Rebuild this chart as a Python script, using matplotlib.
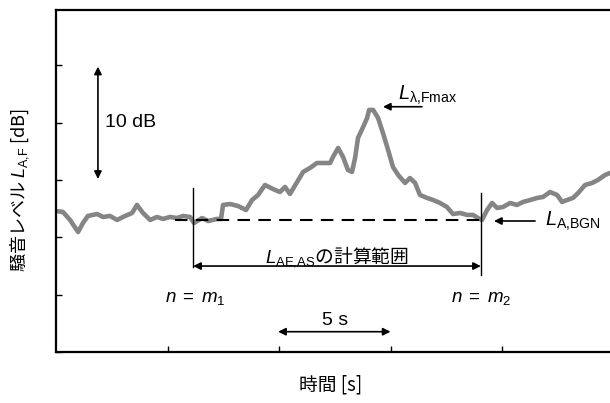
import numpy as np
import matplotlib
matplotlib.use("Agg")
import matplotlib.pyplot as plt

plt.rcParams["font.family"] = ["Noto Sans CJK JP", "DejaVu Sans"]
plt.rcParams["mathtext.fontset"] = "custom"
plt.rcParams["mathtext.rm"] = "Liberation Sans"
plt.rcParams["mathtext.it"] = "Liberation Sans:italic"
plt.rcParams["mathtext.bf"] = "Liberation Sans:bold"

# Noise level trace (time in s, level in dB above the axis floor)
time_s = [0.0, 0.31, 0.63, 0.99, 1.21, 1.43, 1.84, 2.11, 2.42, 2.74, 3.00, 3.41,
          3.63, 3.90, 4.22, 4.53, 4.80, 5.11, 5.43, 5.70, 6.01, 6.19, 6.55, 6.82,
          7.22, 7.40, 7.49, 7.80, 8.16, 8.52, 8.79, 9.06, 9.37, 9.73, 10.04, 10.27,
          10.49, 10.81, 11.08, 11.39, 11.70, 11.97, 12.29, 12.42, 12.65, 12.87,
          13.09, 13.27, 13.41, 13.54, 13.77, 13.95, 14.04, 14.22, 14.44, 14.66,
          14.89, 15.11, 15.34, 15.65, 15.87, 16.10, 16.32, 16.64, 16.91, 17.22,
          17.53, 17.80, 18.12, 18.43, 18.70, 18.92, 19.10, 19.33, 19.55, 19.78,
          20.04, 20.36, 20.67, 20.94, 21.26, 21.57, 21.84, 22.15, 22.47, 22.69,
          22.91, 23.18, 23.41, 23.72, 24.04, 24.30, 24.62, 24.84]
level_db = [12.30, 12.22, 11.52, 10.47, 11.26, 11.87, 12.04, 11.78, 11.87, 11.52,
            11.78, 12.13, 12.83, 12.13, 11.52, 11.78, 11.61, 11.78, 11.69, 11.87,
            11.78, 11.26, 11.69, 11.43, 11.61, 11.61, 12.83, 12.91, 12.74, 12.39,
            13.26, 13.70, 14.57, 14.22, 13.96, 14.40, 13.79, 14.83, 15.71, 16.06,
            16.49, 16.49, 16.49, 17.02, 17.80, 17.02, 15.88, 15.71, 16.93, 18.67,
            19.63, 20.42, 21.12, 21.12, 20.42, 19.11, 17.63, 16.14, 15.45, 14.75,
            15.18, 14.75, 13.70, 13.44, 13.26, 13.00, 12.65, 12.04, 12.13, 11.96,
            11.96, 11.69, 11.52, 12.39, 13.00, 12.57, 12.65, 13.00, 12.83, 13.09,
            13.26, 13.44, 13.53, 13.96, 13.70, 13.09, 13.26, 13.44, 13.87, 14.57,
            14.75, 15.01, 15.45, 15.62]

m1_s = 6.15      # start of calculation range
m2_s = 19.05     # end of calculation range
bgn_db = 11.5    # background level

fig = plt.figure(figsize=(6.1, 4.03), dpi=100)
ax = fig.add_axes([56 / 610, 51 / 403, 1 - 56 / 610, 342 / 403])

ax.plot(time_s, level_db, color="#858585", lw=3.3, solid_capstyle="round",
        solid_joinstyle="round", zorder=2)

ax.set_xlim(0, 24.84)
ax.set_ylim(0, 29.84)
ax.set_xticks([5, 10, 15, 20])
ax.set_yticks([0, 5, 10, 15, 20, 25])
ax.tick_params(direction="in", length=4, width=1, labelbottom=False, labelleft=False)
for side in ["left", "bottom", "top"]:
    ax.spines[side].set_linewidth(1.6)
ax.spines["right"].set_visible(False)

arrow = dict(arrowstyle="<|-|>", color="k", lw=1.2, mutation_scale=11,
             shrinkA=0, shrinkB=0)
one_way = dict(arrowstyle="-|>", color="k", lw=1.2, mutation_scale=11,
               shrinkA=0, shrinkB=0)

# 10 dB scale arrow
ax.annotate("", xy=(1.88, 24.9), xytext=(1.88, 15.1), arrowprops=arrow)
ax.text(2.2, 20.0, "10 dB", family="Liberation Sans", fontsize=14, va="center")

# calculation range
ax.plot([m1_s, m1_s], [7.4, 14.3], color="k", lw=1.0)
ax.plot([m2_s, m2_s], [6.7, 13.9], color="k", lw=1.0)
ax.plot([5.35, m2_s], [bgn_db, bgn_db], color="k", lw=1.5, dashes=(6, 4))
ax.annotate("", xy=(m1_s, 7.5), xytext=(m2_s, 7.5), arrowprops=arrow)
ax.text((m1_s + m2_s) / 2, 7.8, r"$L_{\mathrm{AE{,}AS}}$の計算範囲", fontsize=13.5,
        ha="center", va="baseline")
ax.text(m1_s + 0.1, 4.36, r"$n\;=\;m_1$", fontsize=13.5, ha="center", va="baseline")
ax.text(m2_s, 4.36, r"$n\;=\;m_2$", fontsize=13.5, ha="center", va="baseline")

# 5 s scale arrow
ax.annotate("", xy=(9.96, 1.77), xytext=(15.0, 1.77), arrowprops=arrow)
ax.text(12.5, 2.36, "5 s", family="Liberation Sans", fontsize=14, ha="center",
        va="baseline")

# maximum level
ax.annotate("", xy=(14.66, 21.4), xytext=(16.41, 21.4), arrowprops=one_way)
ax.text(15.34, 22.0, r"$L_{\mathrm{λ{,}Fmax}}$", fontsize=14.5, va="baseline")

# background level
ax.annotate("", xy=(19.64, 11.43), xytext=(21.48, 11.43), arrowprops=one_way)
ax.text(21.93, 11.0, r"$L_{\mathrm{A{,}BGN}}$", fontsize=14.5, va="baseline")

fig.text(331 / 610, 1 - 385 / 403, "時間 [s]", fontsize=13.5, ha="center", va="center")
fig.text(19.5 / 610, 1 - 190 / 403, r"騒音レベル $L_{\mathrm{A{,}F}}$ [dB]", fontsize=13,
         rotation=90, ha="center", va="center")

fig.savefig("out.png", dpi=100)
